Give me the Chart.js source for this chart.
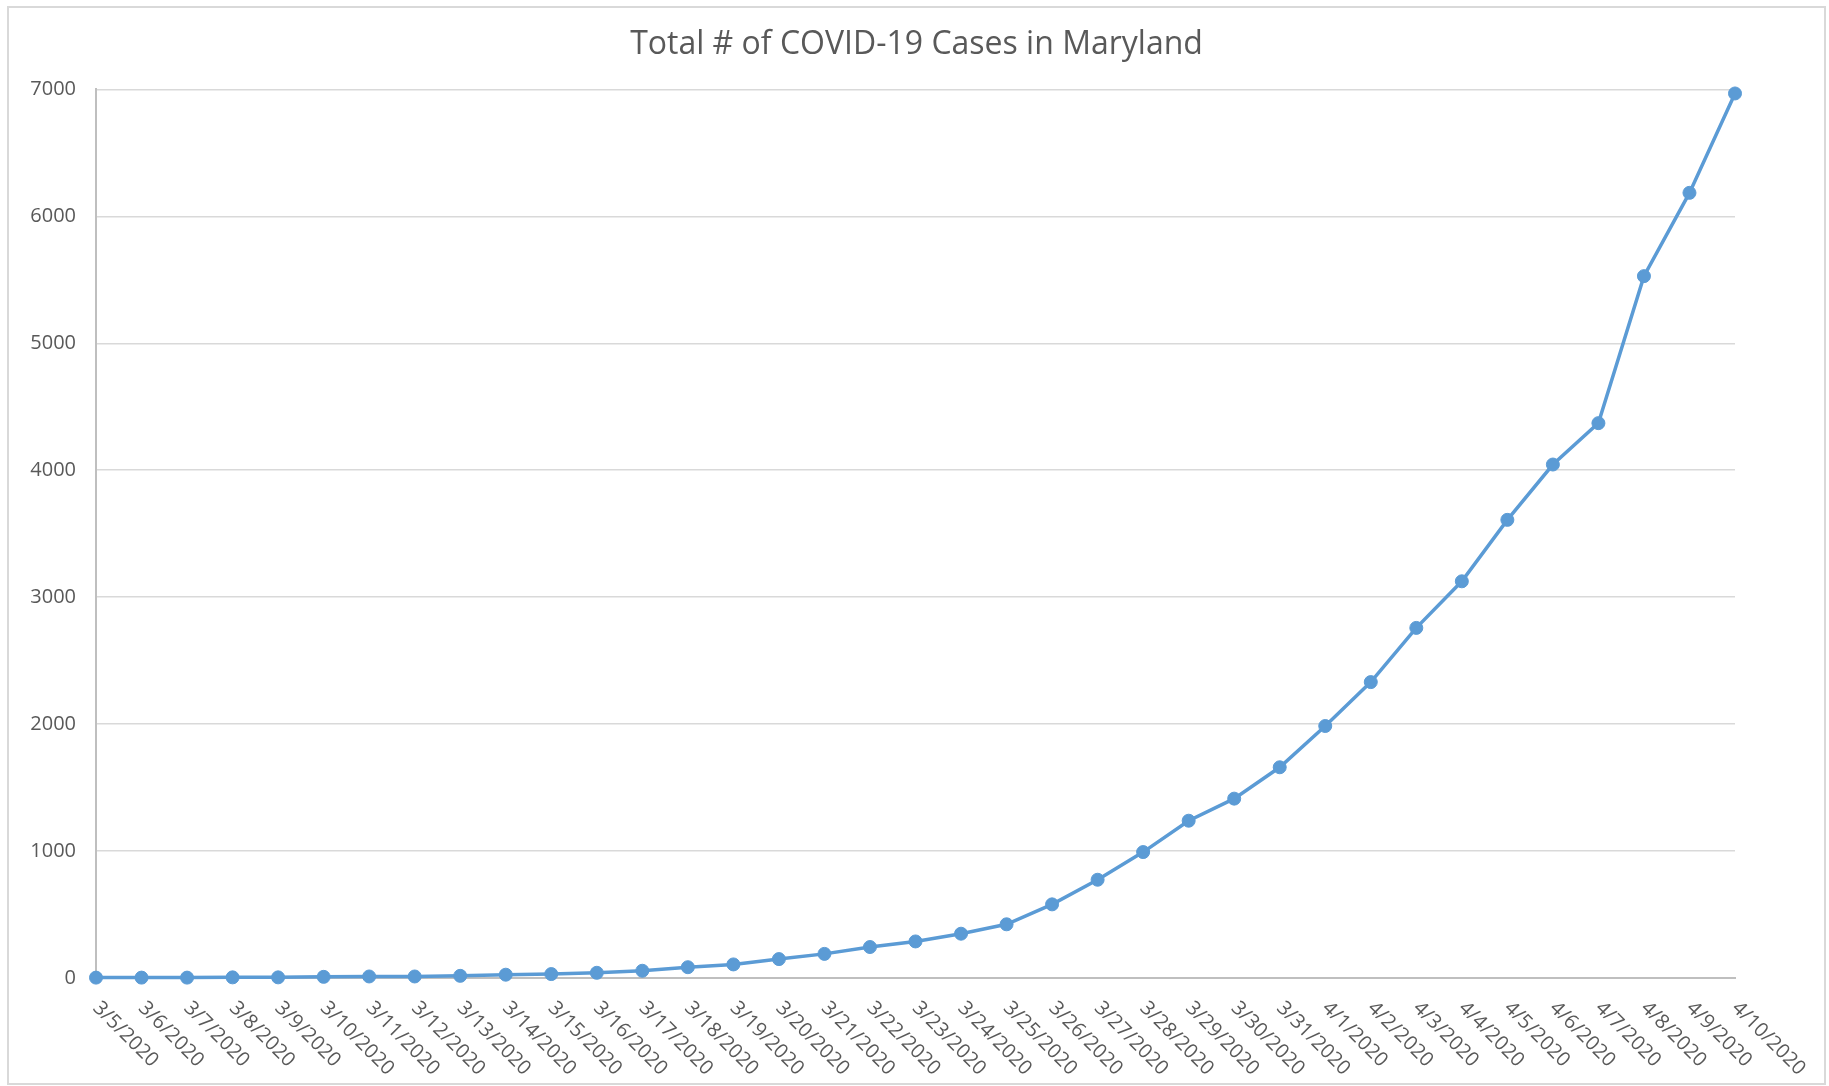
<!DOCTYPE html>
<html>
<head>
<meta charset="utf-8">
<title>Total # of COVID-19 Cases in Maryland</title>
<script src="https://cdn.jsdelivr.net/npm/chart.js@4"></script>
<style>
  html, body {
    margin: 0;
    padding: 0;
    background: #fff;
    overflow: hidden;
  }
  #wrap {
    position: absolute;
    left: 7px;
    top: 6px;
    width: 1815px;
    height: 1075px;
    border: 2px solid #d9d9d9;
  }
</style>
</head>
<body>
<div id="wrap">
  <canvas id="myChart" width="1815" height="1075"></canvas>
</div>
<script>
// DATA

const dates = [
  '3/5/2020', '3/6/2020', '3/7/2020', '3/8/2020', '3/9/2020', '3/10/2020',
  '3/11/2020', '3/12/2020', '3/13/2020', '3/14/2020', '3/15/2020', '3/16/2020',
  '3/17/2020', '3/18/2020', '3/19/2020', '3/20/2020', '3/21/2020', '3/22/2020',
  '3/23/2020', '3/24/2020', '3/25/2020', '3/26/2020', '3/27/2020', '3/28/2020',
  '3/29/2020', '3/30/2020', '3/31/2020', '4/1/2020', '4/2/2020', '4/3/2020',
  '4/4/2020', '4/5/2020', '4/6/2020', '4/7/2020', '4/8/2020', '4/9/2020',
  '4/10/2020'
]

const cases = [
  3, 3, 3, 5, 5, 9,
  12, 12, 17, 26, 31, 41,
  57, 85, 107, 149, 190, 244,
  288, 349, 423, 580, 774, 992,
  1239, 1413, 1660, 1985, 2331, 2758,
  3125, 3609, 4045, 4371, 5529, 6185,
  6968
]

const yMin = 0
const yMax = 7000
const yStep = 1000

const titleText = 'Total # of COVID-19 Cases in Maryland'

// x labels run down to the right from each tick, like the Excel chart
const xLabelPlugin = {
  id: 'xLabels',
  afterDraw: chart => {
    const ctx = chart.ctx
    const xScale = chart.scales.x
    const bottom = chart.chartArea.bottom
    ctx.save()
    ctx.font = '20px "Open Sans"'
    ctx.fillStyle = '#595959'
    ctx.textAlign = 'left'
    ctx.textBaseline = 'middle'
    chart.data.labels.forEach((label, i) => {
      const x = xScale.getPixelForTick(i)
      ctx.save()
      ctx.translate(x, bottom + 27)
      ctx.rotate(Math.PI / 4)
      ctx.fillText(label, 0, 0)
      ctx.restore()
    })
    ctx.restore()
  }
}

// CHART

const data = {
  labels: dates,
  datasets: [
    {
      label: 'Total cases',
      data: cases,
      borderColor: '#5b9bd5',
      backgroundColor: '#5b9bd5',
      borderWidth: 3.5,
      pointRadius: 6.5,
      pointBorderWidth: 1,
      pointBorderColor: '#5b9bd5',
      pointBackgroundColor: '#5b9bd5',
      tension: 0,
      clip: false
    }
  ]
}

const config = {
  type: 'line',
  data: data,
  options: {
    responsive: false,
    animation: false,
    layout: {
      padding: 0
    },
    plugins: {
      legend: { display: false },
      tooltip: { enabled: false },
      title: {
        display: true,
        text: titleText,
        color: '#595959',
        font: { family: '"Open Sans"', size: 32, weight: 'normal' },
        padding: { top: 18, bottom: 25 }
      }
    },
    scales: {
      x: {
        offset: false,
        grid: { display: false },
        border: { display: true, color: '#bfbfbf', width: 2 },
        ticks: { display: false },
        afterFit: scale => {
          scale.height = 105
        }
      },
      y: {
        min: yMin,
        max: yMax,
        grid: { color: '#d9d9d9', lineWidth: 1.5, drawTicks: false },
        border: { display: true, color: '#bfbfbf', width: 2 },
        ticks: {
          stepSize: yStep,
          padding: 20,
          color: '#595959',
          font: { family: '"Open Sans"', size: 20 },
          callback: value => String(value)
        },
        afterFit: scale => {
          scale.width = 87
        }
      },
      // empty right axis, only keeps the plot clear of the right edge
      spacer: {
        type: 'linear',
        position: 'right',
        min: yMin,
        max: yMax,
        grid: { display: false },
        border: { display: false },
        ticks: { display: false },
        afterFit: scale => {
          scale.width = 89
        }
      }
    }
  },
  plugins: [xLabelPlugin]
}

const myChart = new Chart(document.getElementById('myChart'), config)
</script>
</body>
</html>
